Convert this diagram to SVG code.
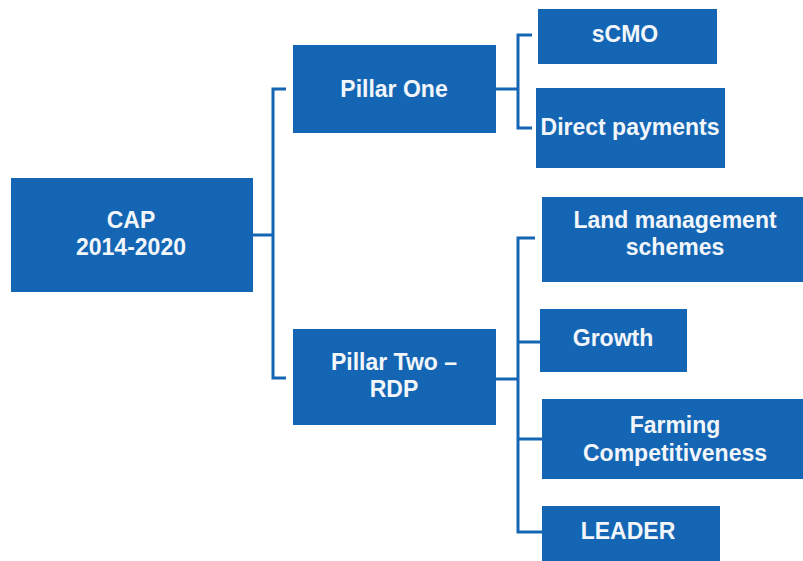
<svg xmlns="http://www.w3.org/2000/svg" width="803" height="561" viewBox="0 0 803 561">
<style>
.box{fill:#1466b4;}
.t{font-family:"Liberation Sans",Arial,sans-serif;font-weight:bold;font-size:23px;fill:#f2f6fa;text-anchor:middle;}
.c{fill:none;stroke:#1466b4;stroke-width:3;}
</style>
<rect width="803" height="561" fill="#ffffff"/>
<g id="connectors">
<path class="c" d="M253,235 H273 M286,89 H273 V378 H286"/>
<path class="c" d="M496,89 H518 M532,35 H518 V128 H532"/>
<path class="c" d="M496,379 H518 M535,238 H518 V532 H542 M518,342 H540 M518,439 H542"/>
</g>
<g id="cap"><rect class="box" x="11" y="178" width="242" height="114"/><text class="t" x="131" y="228">CAP</text><text class="t" x="131" y="255">2014-2020</text></g>
<g id="pillar-one"><rect class="box" x="293" y="45" width="203" height="88"/><text class="t" x="394" y="97">Pillar One</text></g>
<g id="pillar-two"><rect class="box" x="293" y="329" width="203" height="96"/><text class="t" x="394" y="370">Pillar Two –</text><text class="t" x="394" y="397">RDP</text></g>
<g id="scmo"><rect class="box" x="538" y="9" width="179" height="55"/><text class="t" x="625" y="42">sCMO</text></g>
<g id="direct-payments"><rect class="box" x="536" y="88" width="189" height="80"/><text class="t" x="630" y="135">Direct payments</text></g>
<g id="land-management"><rect class="box" x="542" y="197" width="261" height="85"/><text class="t" x="675" y="228">Land management</text><text class="t" x="675" y="255">schemes</text></g>
<g id="growth"><rect class="box" x="540" y="309" width="147" height="63"/><text class="t" x="613" y="346">Growth</text></g>
<g id="farming"><rect class="box" x="542" y="399" width="261" height="80"/><text class="t" x="675" y="433">Farming</text><text class="t" x="675" y="461">Competitiveness</text></g>
<g id="leader"><rect class="box" x="542" y="506" width="178" height="55"/><text class="t" x="628" y="539">LEADER</text></g>
</svg>
